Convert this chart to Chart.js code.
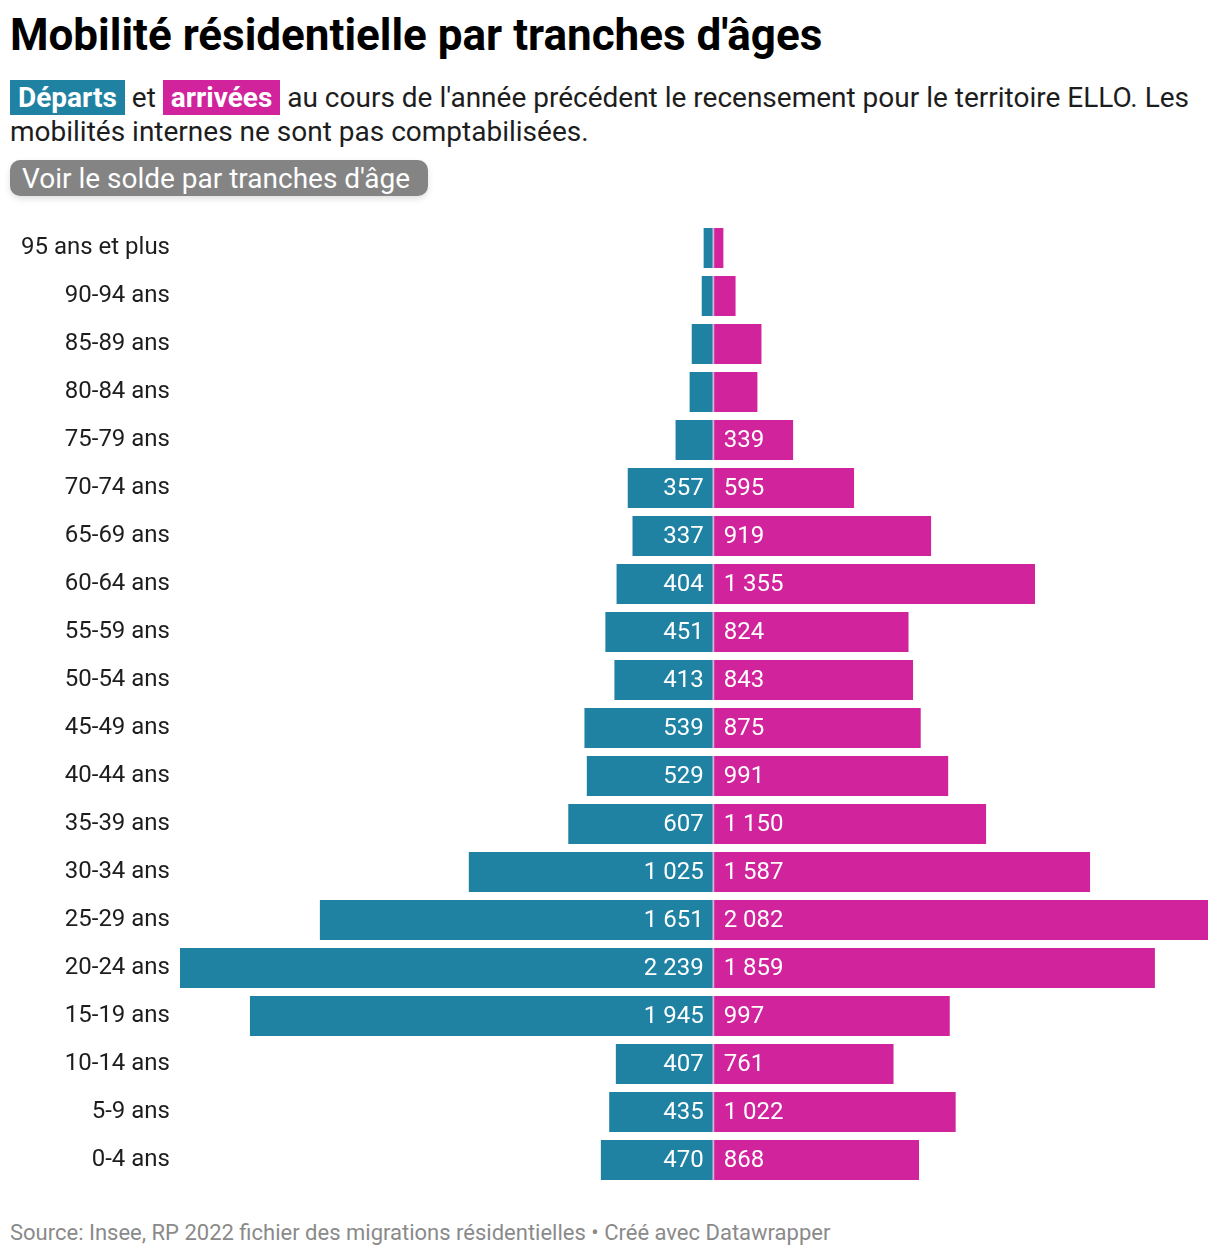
<!DOCTYPE html>
<html lang="fr">
<head>
<meta charset="utf-8">
<script src="https://cdn.jsdelivr.net/npm/chart.js@4.4.1/dist/chart.umd.min.js"></script>
<style>
  body { margin: 0; background: #fff; font-family: Roboto, sans-serif; color: #1d1d1d; }
  #page { position: relative; width: 1220px; height: 1256px; overflow: hidden; }
  h1 { position: absolute; left: 10px; top: 9px; margin: 0; font-size: 44px; line-height: 52px; font-weight: 700; color: #000; white-space: nowrap; }
  .sub { position: absolute; left: 10px; top: 81px; width: 1205px; margin: 0; font-size: 28px; line-height: 34px; }
  .tag { color: #fff; font-weight: 700; padding: 1px 8px; }
  .dep { background: #1f82a3; }
  .arr { background: #d0239c; }
  .btn { position: absolute; left: 10px; top: 160px; height: 36px; line-height: 37px; padding: 0 18px 0 12px;
         background: #848484; color: #fff; font-size: 28px; border-radius: 10px; box-shadow: 0 3px 6px rgba(0,0,0,0.12); }
  #wrap { position: absolute; left: 0; top: 210px; width: 1220px; height: 990px; }
  .foot { position: absolute; left: 10px; top: 1220px; font-size: 22px; line-height: 26px; color: #8a8a8a; white-space: nowrap; }
</style>
</head>
<body>
<div id="page">
  <h1>Mobilité résidentielle par tranches d'âges</h1>
  <p class="sub"><span class="tag dep">Départs</span> et <span class="tag arr">arrivées</span> au cours de l'année précédent le recensement pour le territoire ELLO. Les mobilités internes ne sont pas comptabilisées.</p>
  <div class="btn">Voir le solde par tranches d'âge</div>
  <div id="wrap"><canvas id="chart"></canvas></div>
  <div class="foot">Source: Insee, RP 2022 fichier des migrations résidentielles • Créé avec Datawrapper</div>
</div>
<script>
const ageGroups = ['95 ans et plus', '90-94 ans', '85-89 ans', '80-84 ans', '75-79 ans', '70-74 ans',
  '65-69 ans', '60-64 ans', '55-59 ans', '50-54 ans', '45-49 ans', '40-44 ans', '35-39 ans',
  '30-34 ans', '25-29 ans', '20-24 ans', '15-19 ans', '10-14 ans', '5-9 ans', '0-4 ans'];
const departures = [38, 46, 88, 97, 156, 357, 337, 404, 451, 413, 539, 529, 607, 1025, 1651, 2239, 1945, 407, 435, 470];
const arrivals = [46, 97, 206, 189, 339, 595, 919, 1355, 824, 843, 875, 991, 1150, 1587, 2082, 1859, 997, 761, 1022, 868];

const teal = '#1f82a3';
const pink = '#d0239c';

function formatNumber(v) {
  return String(Math.round(Math.abs(v))).replace(/\B(?=(\d{3})+(?!\d))/g, ' ');
}

// values written inside the bars, only when the bar is wide enough
const barLabels = {
  id: 'barLabels',
  afterDatasetsDraw(chart) {
    const ctx = chart.ctx;
    ctx.save();
    ctx.font = '24px Roboto, sans-serif';
    ctx.fillStyle = '#fff';
    ctx.textBaseline = 'middle';
    chart.data.datasets.forEach((ds, i) => {
      chart.getDatasetMeta(i).data.forEach((bar, j) => {
        const w = Math.abs(bar.x - bar.base);
        if (w < 60) return;
        const text = formatNumber(ds.data[j]);
        if (ds.data[j] < 0) {
          ctx.textAlign = 'right';
          ctx.fillText(text, bar.base - 9, bar.y + 1);
        } else {
          ctx.textAlign = 'left';
          ctx.fillText(text, bar.base + 11, bar.y + 1);
        }
      });
    });
    ctx.restore();
  }
};

const config = {
  type: 'bar',
  data: {
    labels: ageGroups,
    datasets: [
      {
        label: 'Départs',
        data: departures.map(v => -v),
        backgroundColor: teal,
        barPercentage: 1,
        categoryPercentage: 40 / 48,
      },
      {
        label: 'Arrivées',
        data: arrivals,
        backgroundColor: pink,
        borderColor: '#e7a9d6',
        borderWidth: { left: 1.5, right: 0, top: 0, bottom: 0 },
        borderSkipped: false,
        barPercentage: 1,
        categoryPercentage: 40 / 48,
      },
    ],
  },
  options: {
    indexAxis: 'y',
    responsive: true,
    maintainAspectRatio: false,
    animation: false,
    layout: { padding: { left: 0, right: 12, top: 14, bottom: 16 } },
    plugins: {
      legend: { display: false },
      tooltip: { enabled: false },
    },
    scales: {
      x: {
        stacked: true,
        min: -2239,
        max: 2082,
        display: false,
      },
      y: {
        stacked: true,
        grid: { display: false, drawTicks: false },
        border: { display: false },
        ticks: {
          color: '#1d1d1d',
          font: { family: 'Roboto, sans-serif', size: 24 },
          padding: 10,
        },
        afterFit(scale) {
          scale.width = 180;
          scale.paddingTop = 0;
          scale.paddingBottom = 0;
        },
      },
    },
  },
  plugins: [barLabels],
};

const myChart = new Chart(document.getElementById('chart'), config);
</script>
</body>
</html>
